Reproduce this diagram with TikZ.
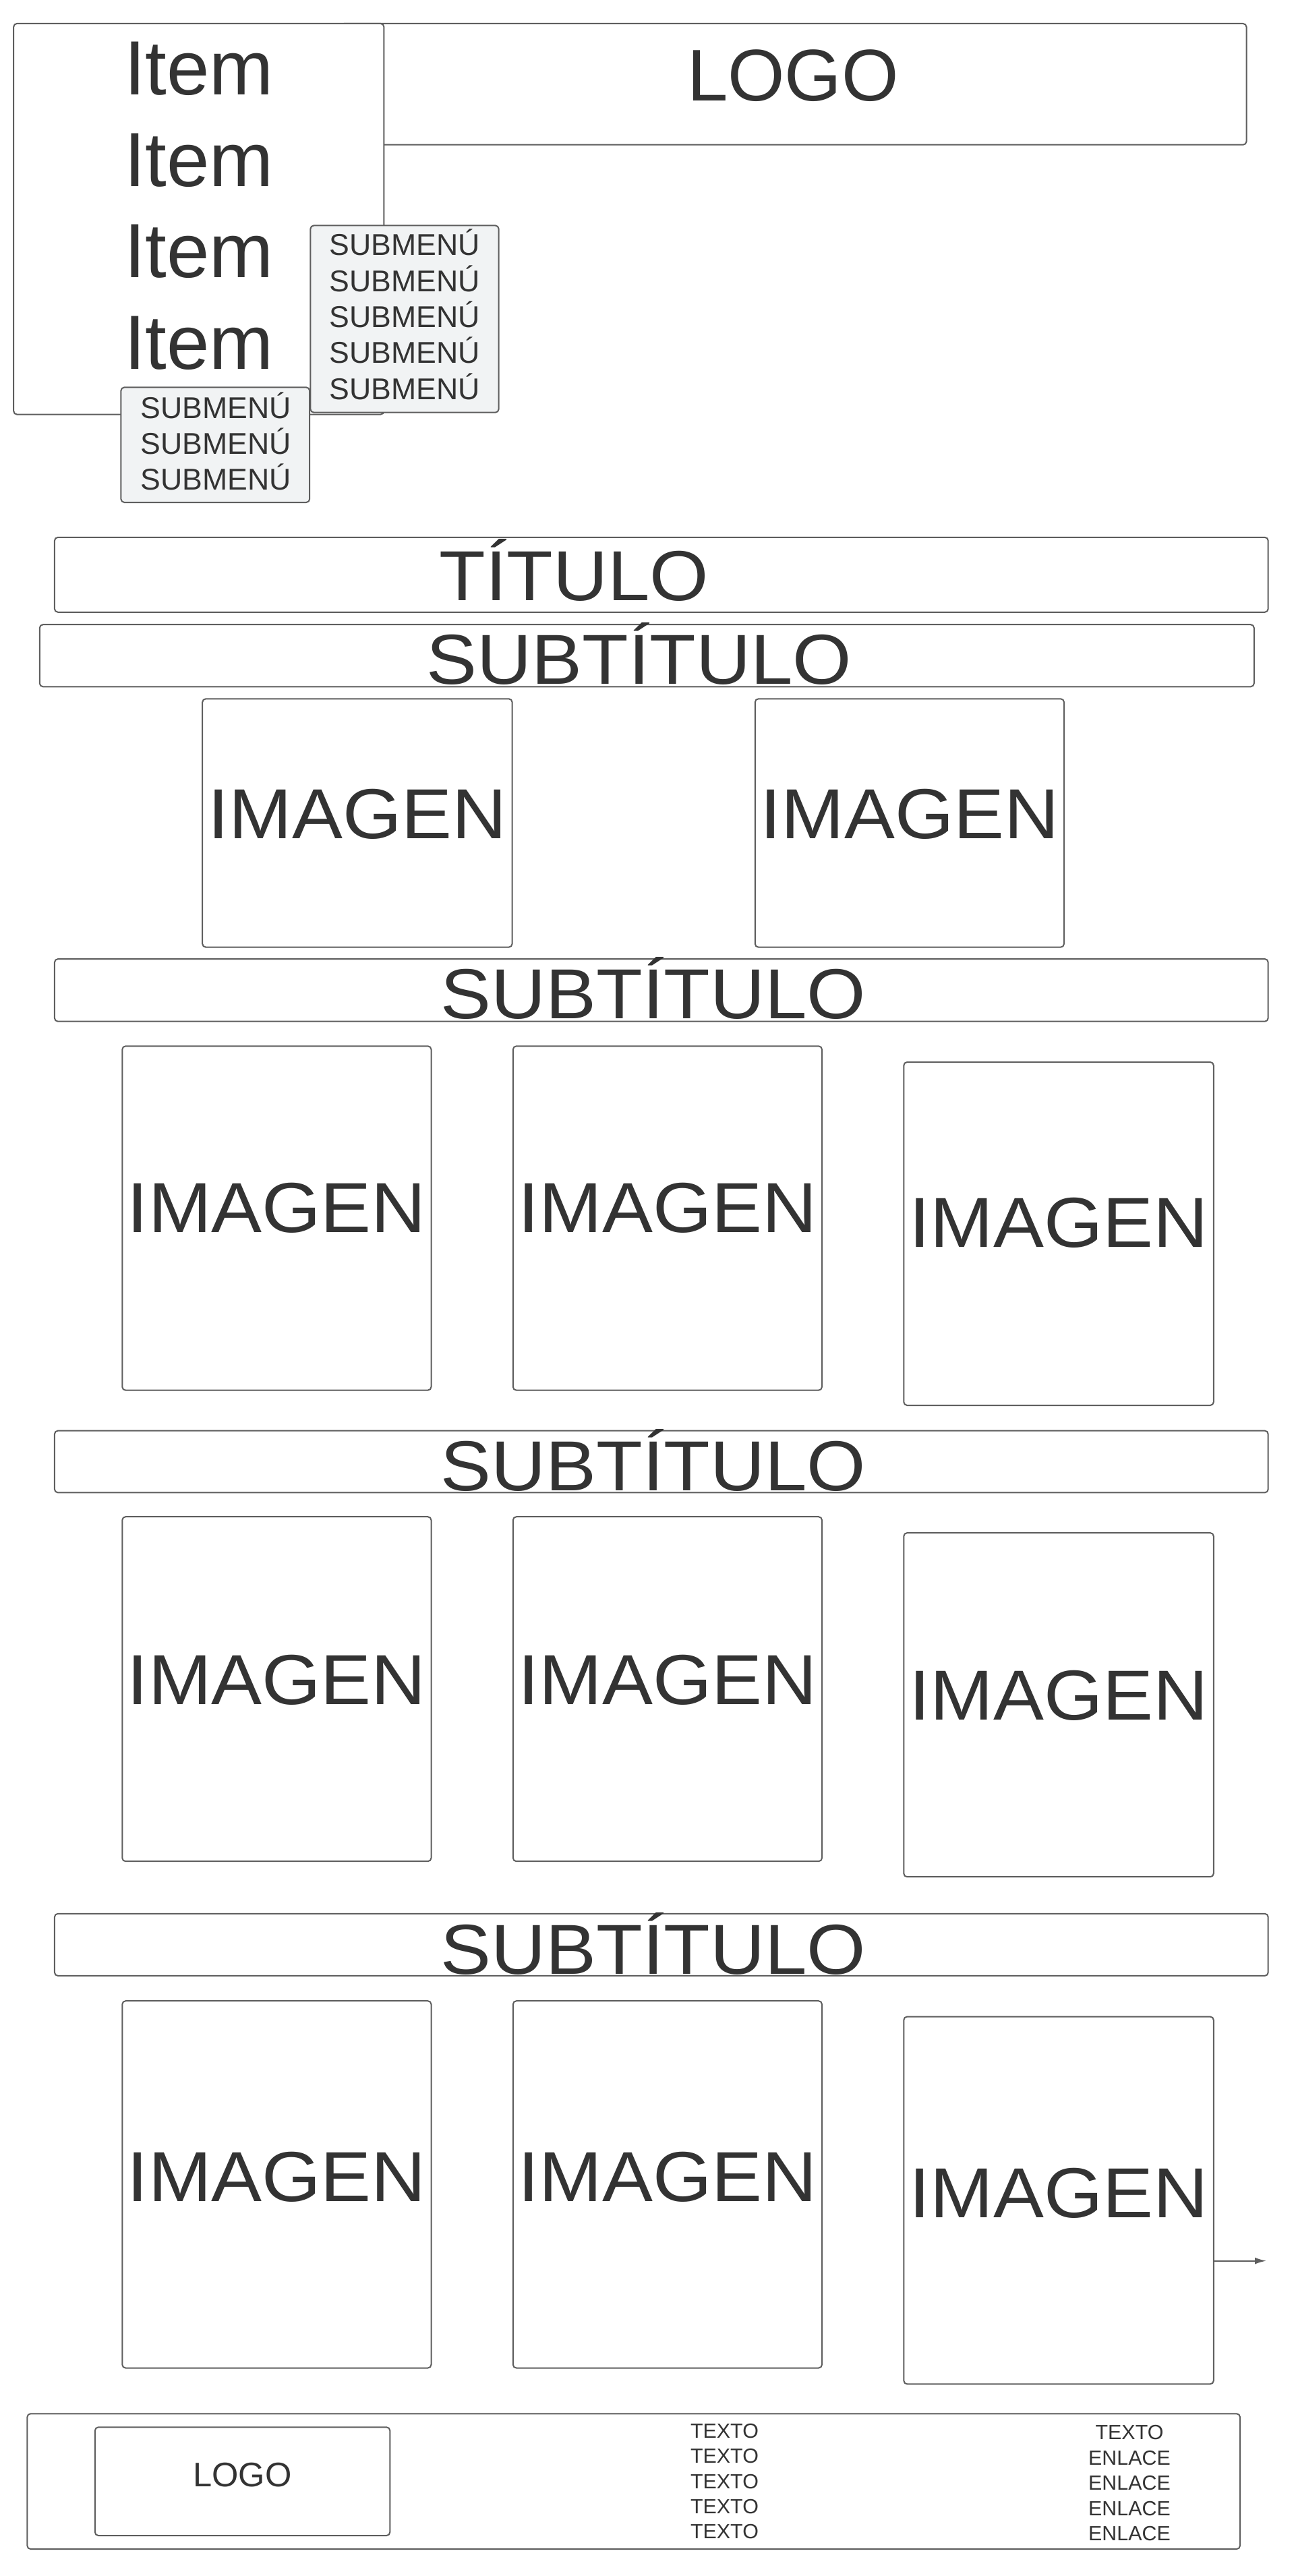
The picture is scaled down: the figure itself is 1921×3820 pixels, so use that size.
\documentclass[tikz,border=0pt]{standalone}
\usepackage{fontspec}
\setmainfont{Liberation Sans}
\newfontfamily\widefont{Liberation Sans}[FakeStretch=1.07]
\usetikzlibrary{arrows.meta,fit}
\definecolor{edgegray}{HTML}{5E5E5E}
\definecolor{inkgray}{HTML}{333333}
\definecolor{subfill}{HTML}{F1F3F4}
\begin{document}
\begin{tikzpicture}[x=0.5pt,y=-0.5pt,
  box/.style={draw=edgegray, line width=1pt, rounded corners=2.5pt, fill=white, inner sep=0pt},
  subbox/.style={box, fill=subfill},
  txt/.style={text=inkgray, anchor=base, inner sep=0pt},
  itemtxt/.style={txt, font=\fontsize{57}{60}\selectfont},
  toplogo/.style={txt, font=\fontsize{54.3}{58}\selectfont},
  bigtxt/.style={txt, font=\widefont\fontsize{52.5}{56}\selectfont},
  subtxt/.style={txt, font=\fontsize{22.3}{24}\selectfont},
  footlogo/.style={txt, font=\fontsize{25.3}{27}\selectfont},
  smalltxt/.style={txt, font=\fontsize{15.2}{16}\selectfont},
  arr/.style={draw=edgegray, line width=1pt, -{Latex[length=8.5pt,width=5pt]}}
]
\fill[white] (0,0) rectangle (1921,3820);
\useasboundingbox (0,0) rectangle (1921,3820);

% header
\node[box, fit={(505,35) (1848.5,214.7)}] (logobox) {};
\node[toplogo] (logotxt) at (1176,149.3) {LOGO};
\node[box, fit={(20.2,34.9) (569.4,614.6)}] (menubox) {};
\node[itemtxt] (item1) at (295,140.6) {Item};
\node[itemtxt] (item2) at (295,276.3) {Item};
\node[itemtxt] (item3) at (295,412) {Item};
\node[itemtxt] (item4) at (295,547.7) {Item};
\node[subbox, fit={(460.4,334.4) (739.6,611.7)}] (subA) {};
\node[subtxt] (subA1) at (600,379) {SUBMENÚ};
\node[subtxt] (subA2) at (600,432.3) {SUBMENÚ};
\node[subtxt] (subA3) at (600,485.6) {SUBMENÚ};
\node[subtxt] (subA4) at (600,538.9) {SUBMENÚ};
\node[subtxt] (subA5) at (600,592.2) {SUBMENÚ};
\node[subbox, fit={(179.4,574.4) (459.2,745)}] (subB) {};
\node[subtxt] (subB1) at (320,620) {SUBMENÚ};
\node[subtxt] (subB2) at (320,673.3) {SUBMENÚ};
\node[subtxt] (subB3) at (320,726.6) {SUBMENÚ};

% title
\node[box, fit={(80.9,796.8) (1880.7,907.8)}] (titlebox) {};
\node[bigtxt] (titletxt) at (851.5,890) {TÍTULO};

% section 1
\node[box, fit={(58.8,926.2) (1859.8,1018.3)}] (st1) {};
\node[bigtxt] (st1txt) at (948,1014.5) {SUBTÍTULO};
\node[box, fit={(300.2,1036.3) (759.6,1404.6)}] (img11) {};
\node[bigtxt] (img11txt) at (530,1243.7) {IMAGEN};
\node[box, fit={(1119.8,1036.3) (1578,1404.6)}] (img12) {};
\node[bigtxt] (img12txt) at (1349,1243.7) {IMAGEN};

% section 2
\node[box, fit={(80.9,1422.1) (1880.7,1514.7)}] (st2) {};
\node[bigtxt] (st2txt) at (969,1510.5) {SUBTÍTULO};
\node[box, fit={(181.3,1551.3) (639.5,2061.6)}] (img21) {};
\node[bigtxt] (img21txt) at (410.4,1827.2) {IMAGEN};
\node[box, fit={(760.8,1551.3) (1219,2061.6)}] (img22) {};
\node[bigtxt] (img22txt) at (990,1827.2) {IMAGEN};
\node[box, fit={(1340.3,1575) (1799.8,2084)}] (img23) {};
\node[bigtxt] (img23txt) at (1570,1849.5) {IMAGEN};

% section 3
\node[box, fit={(80.9,2121.6) (1880.7,2213.4)}] (st3) {};
\node[bigtxt] (st3txt) at (969,2210) {SUBTÍTULO};
\node[box, fit={(181.3,2249.2) (639.5,2760.2)}] (img31) {};
\node[bigtxt] (img31txt) at (410.4,2527) {IMAGEN};
\node[box, fit={(760.8,2249.2) (1219,2760.2)}] (img32) {};
\node[bigtxt] (img32txt) at (990,2527) {IMAGEN};
\node[box, fit={(1340.3,2273.1) (1799.8,2783.2)}] (img33) {};
\node[bigtxt] (img33txt) at (1570,2550) {IMAGEN};

% section 4
\node[box, fit={(80.9,2837.8) (1880.7,2929.9)}] (st4) {};
\node[bigtxt] (st4txt) at (969,2927) {SUBTÍTULO};
\node[box, fit={(181.3,2967.2) (639.5,3511.5)}] (img41) {};
\node[bigtxt] (img41txt) at (410.4,3264.4) {IMAGEN};
\node[box, fit={(760.8,2967.2) (1219,3511.5)}] (img42) {};
\node[bigtxt] (img42txt) at (990,3264.4) {IMAGEN};
\node[box, fit={(1340.3,2990.5) (1799.8,3535.3)}] (img43) {};
\node[bigtxt] (img43txt) at (1570,3288.6) {IMAGEN};
\coordinate (arrowend) at (1878,3352.6);
\draw[arr] (img43.east |- arrowend) -- (arrowend);

% footer
\node[box, fit={(40.4,3579.3) (1839,3780)}] (footer) {};
\node[box, fit={(140.9,3599.3) (578.3,3760)}] (flogobox) {};
\node[footlogo] (flogotxt) at (359.6,3687.3) {LOGO};
\node[smalltxt] (ta1) at (1074.5,3615.3) {TEXTO};
\node[smalltxt] (ta2) at (1074.5,3652.7) {TEXTO};
\node[smalltxt] (ta3) at (1074.5,3690.3) {TEXTO};
\node[smalltxt] (ta4) at (1074.5,3727.7) {TEXTO};
\node[smalltxt] (ta5) at (1074.5,3764.7) {TEXTO};
\node[smalltxt] (tb1) at (1675,3617.7) {TEXTO};
\node[smalltxt] (tb2) at (1675,3655.3) {ENLACE};
\node[smalltxt] (tb3) at (1675,3692.7) {ENLACE};
\node[smalltxt] (tb4) at (1675,3730.3) {ENLACE};
\node[smalltxt] (tb5) at (1675,3767) {ENLACE};
\end{tikzpicture}
\end{document}
